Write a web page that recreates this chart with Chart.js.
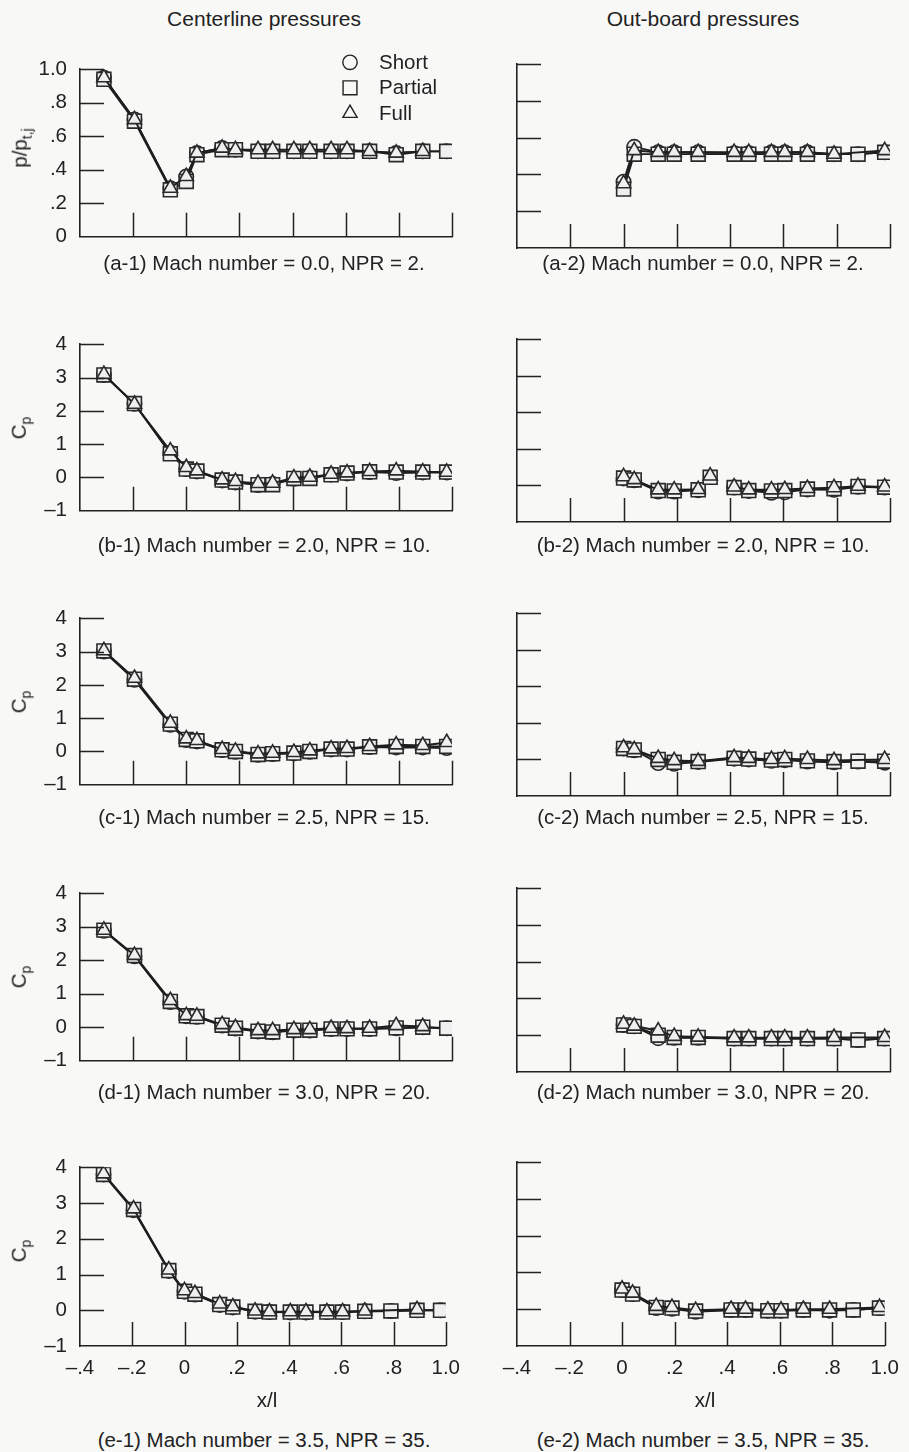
<!DOCTYPE html>
<html>
<head>
<meta charset="utf-8">
<script src="https://cdn.jsdelivr.net/npm/chart.js@4.4.1/dist/chart.umd.min.js"></script>
<style>
  html, body { margin: 0; padding: 0; background: #f8f8f7; }
  #page { position: relative; width: 909px; height: 1452px; overflow: hidden;
          font-family: 'Liberation Sans', Arial, sans-serif; color: #222; }
  .txt { position: absolute; font-size: 20.5px; line-height: 1; white-space: nowrap;
         transform: translate(-50%, -50%); }
  .hdr { font-size: 21px; }
  .rot { transform: translate(-50%, -50%) rotate(-90deg); }
  .txt sub { font-size: 14px; vertical-align: -5px; line-height: 0; }
  canvas { position: absolute; }
</style>
</head>
<body>
<div id="page"></div>
<script>
// tap locations, x/l
const centerX = [-0.31, -0.195, -0.06, 0.0, 0.04, 0.135, 0.185, 0.27, 0.325, 0.405, 0.465, 0.545, 0.605, 0.69, 0.79, 0.89, 0.98];
const outboardX = [0.0, 0.04, 0.13, 0.19, 0.28, 0.325, 0.415, 0.47, 0.555, 0.605, 0.69, 0.79, 0.88, 0.98];

// tick labels
const xTickLabels = ['–.4', '–.2', '0', '.2', '.4', '.6', '.8', '1.0'];
const pTickLabels = ['0', '.2', '.4', '.6', '.8', '1.0'];
const cpTickLabels = ['–1', '0', '1', '2', '3', '4'];

// (a) Mach 0.0, NPR 2  -> p/pt,j
const a1Short   = [0.95, 0.70, 0.29, 0.36, 0.50, 0.53, 0.52, 0.51, 0.51, 0.51, 0.51, 0.51, 0.51, 0.51, 0.50, 0.51, 0.51];
const a1Partial = [0.94, 0.69, 0.28, 0.33, 0.49, 0.52, 0.52, 0.51, 0.51, 0.51, 0.51, 0.51, 0.51, 0.51, 0.49, 0.51, 0.51];
const a1Full    = [0.95, 0.70, 0.29, 0.36, 0.50, 0.53, 0.52, 0.52, 0.52, 0.52, 0.52, 0.52, 0.52, 0.51, 0.50, 0.51, null];
const a2Short   = [0.36, 0.55, 0.52, 0.52, 0.52, null, 0.515, 0.515, 0.52, 0.52, 0.52, 0.51, 0.51, 0.52];
const a2Partial = [0.32, 0.51, 0.51, 0.51, 0.51, null, 0.51, 0.51, 0.51, 0.51, 0.51, 0.51, 0.51, 0.52];
const a2Full    = [0.35, 0.53, 0.52, 0.52, 0.52, null, 0.52, 0.52, 0.52, 0.52, 0.52, 0.51, null, 0.53];

// (b) Mach 2.0, NPR 10  -> Cp
const b1Short   = [3.08, 2.21, 0.74, 0.25, 0.18, -0.09, -0.15, -0.23, -0.20, -0.04, -0.02, 0.09, 0.12, 0.16, 0.13, 0.15, 0.15];
const b1Partial = [3.08, 2.22, 0.71, 0.25, 0.19, -0.08, -0.14, -0.22, -0.22, -0.03, -0.03, 0.08, 0.13, 0.17, 0.16, 0.16, 0.16];
const b1Full    = [3.10, 2.20, 0.80, 0.30, 0.20, -0.07, -0.12, -0.18, -0.17, -0.01, 0.01, 0.10, 0.14, 0.18, 0.20, 0.17, 0.16];
const b2Short   = [0.19, 0.14, -0.17, -0.17, -0.13, null, -0.06, -0.15, -0.20, -0.19, -0.11, -0.12, -0.04, -0.06];
const b2Partial = [0.20, 0.15, -0.14, -0.15, -0.12, 0.22, -0.06, -0.14, -0.15, -0.14, -0.10, -0.09, -0.03, -0.05];
const b2Full    = [0.24, 0.16, -0.12, -0.12, -0.11, 0.26, -0.04, -0.12, -0.12, -0.11, -0.08, -0.06, -0.02, -0.04];
const b2Loose   = [5]; // tap plotted without a connecting line

// (c) Mach 2.5, NPR 15
const c1Short   = [3.00, 2.15, 0.80, 0.34, 0.30, 0.04, -0.01, -0.10, -0.08, -0.06, -0.01, 0.06, 0.06, 0.13, 0.12, 0.12, 0.10];
const c1Partial = [3.02, 2.17, 0.82, 0.36, 0.32, 0.05, 0.00, -0.09, -0.07, -0.05, 0.00, 0.07, 0.07, 0.14, 0.15, 0.15, 0.15];
const c1Full    = [3.03, 2.20, 0.85, 0.38, 0.33, 0.06, 0.01, -0.07, -0.05, -0.03, 0.02, 0.08, 0.09, 0.15, 0.20, 0.18, 0.27];
const c2Short   = [0.30, 0.25, -0.10, -0.12, -0.07, null, 0.02, 0.00, -0.04, -0.02, -0.06, -0.08, -0.06, -0.09];
const c2Partial = [0.30, 0.26, 0.00, -0.08, -0.06, null, 0.03, 0.01, -0.02, 0.00, -0.04, -0.06, -0.05, -0.05];
const c2Full    = [0.32, 0.27, 0.03, -0.03, -0.05, null, 0.05, 0.03, 0.00, 0.02, 0.00, -0.03, null, 0.00];

// (d) Mach 3.0, NPR 20
const d1Short   = [2.88, 2.12, 0.75, 0.33, 0.31, 0.05, -0.04, -0.13, -0.15, -0.10, -0.10, -0.05, -0.05, -0.05, -0.03, 0.00, -0.03];
const d1Partial = [2.90, 2.14, 0.77, 0.34, 0.32, 0.06, -0.03, -0.12, -0.14, -0.09, -0.09, -0.05, -0.05, -0.05, -0.02, 0.00, -0.03];
const d1Full    = [2.90, 2.15, 0.80, 0.35, 0.33, 0.08, -0.01, -0.10, -0.10, -0.07, -0.07, -0.03, -0.04, -0.03, 0.05, 0.02, null];
const d2Short   = [0.28, 0.24, -0.08, -0.07, -0.07, null, -0.09, -0.09, -0.09, -0.09, -0.09, -0.09, -0.13, -0.09];
const d2Partial = [0.28, 0.24, 0.00, -0.06, -0.06, null, -0.09, -0.09, -0.09, -0.09, -0.09, -0.09, -0.13, -0.09];
const d2Full    = [0.30, 0.25, 0.12, -0.03, -0.05, null, -0.07, -0.07, -0.07, -0.07, -0.07, -0.06, null, -0.06];

// (e) Mach 3.5, NPR 35
const e1Short   = [3.80, 2.80, 1.10, 0.52, 0.44, 0.15, 0.08, -0.04, -0.05, -0.06, -0.06, -0.05, -0.05, -0.03, -0.02, 0.00, 0.00];
const e1Partial = [3.80, 2.82, 1.11, 0.53, 0.45, 0.16, 0.09, -0.03, -0.05, -0.05, -0.05, -0.05, -0.05, -0.03, -0.02, 0.00, 0.00];
const e1Full    = [3.82, 2.84, 1.13, 0.55, 0.47, 0.18, 0.10, -0.02, -0.04, -0.04, -0.04, -0.04, -0.04, -0.02, null, 0.02, null];
const e2Short   = [0.52, 0.41, 0.03, 0.01, -0.07, null, -0.02, -0.02, -0.04, -0.04, -0.02, -0.04, -0.02, 0.03];
const e2Partial = [0.52, 0.41, 0.05, 0.03, -0.05, null, -0.02, -0.02, -0.04, -0.04, -0.02, -0.02, -0.02, 0.03];
const e2Full    = [0.55, 0.44, 0.08, 0.05, -0.03, null, 0.00, 0.00, -0.02, -0.02, 0.00, 0.00, null, 0.05];

const seriesNames = ['Short', 'Partial', 'Full'];

const ink = '#222';
const fontFamily = "'Liberation Sans', Arial, sans-serif";
const markers = [
  { pointStyle: 'circle', radius: 7.2, order: 3 },
  { pointStyle: 'rect', radius: 9.8, order: 2 },
  { pointStyle: 'triangle', radius: 8.2, order: 1 }
];

const rows = [
  { top: 64,   h: 184, capY: 263,  kind: 'p',  tag: 'a', mach: '0.0', npr: '2' },
  { top: 339,  h: 183, capY: 545,  kind: 'cp', tag: 'b', mach: '2.0', npr: '10' },
  { top: 613,  h: 183, capY: 817,  kind: 'cp', tag: 'c', mach: '2.5', npr: '15' },
  { top: 888,  h: 184, capY: 1092, kind: 'cp', tag: 'd', mach: '3.0', npr: '20' },
  { top: 1162, h: 184, capY: 1440, kind: 'cp', tag: 'e', mach: '3.5', npr: '35' }
];
const rowSeries = {
  a: [[a1Short, a1Partial, a1Full], [a2Short, a2Partial, a2Full]],
  b: [[b1Short, b1Partial, b1Full], [b2Short, b2Partial, b2Full]],
  c: [[c1Short, c1Partial, c1Full], [c2Short, c2Partial, c2Full]],
  d: [[d1Short, d1Partial, d1Full], [d2Short, d2Partial, d2Full]],
  e: [[e1Short, e1Partial, e1Full], [e2Short, e2Partial, e2Full]]
};
const rowLoose = { b: [[], b2Loose] };

const cols = [
  { left: 0,   width: 470, axisW: 80, padR: 18, cx: 264, x: centerX, header: 'Centerline pressures' },
  { left: 470, width: 439, axisW: 47, padR: 19, cx: 703, x: outboardX, header: 'Out-board pressures' }
];

const page = document.getElementById('page');
function addText(html, x, y, cls) {
  const d = document.createElement('div');
  d.className = 'txt' + (cls ? ' ' + cls : '');
  d.innerHTML = html;
  d.style.left = x + 'px';
  d.style.top = y + 'px';
  page.appendChild(d);
}

// inward tick marks, like the original plots
const innerTicks = {
  id: 'innerTicks',
  afterDraw(chart) {
    const { ctx, chartArea } = chart;
    const xs = chart.scales.x, ys = chart.scales.y;
    ctx.save();
    ctx.strokeStyle = ink;
    ctx.lineWidth = 1.5;
    ctx.beginPath();
    xs.ticks.forEach((t, i) => {
      if (i === 0) return;
      const px = Math.round(xs.getPixelForValue(t.value)) + 0.5;
      ctx.moveTo(px, chartArea.bottom);
      ctx.lineTo(px, chartArea.bottom - 24);
    });
    ys.ticks.forEach((t, i) => {
      if (i === 0) return;
      const py = Math.round(ys.getPixelForValue(t.value)) + 0.5;
      ctx.moveTo(chartArea.left, py);
      ctx.lineTo(chartArea.left + 24, py);
    });
    ctx.stroke();
    ctx.restore();
  }
};

// legend drawn inside the first panel
const innerLegend = {
  id: 'innerLegend',
  afterDraw(chart, args, opts) {
    if (!opts.show) return;
    const { ctx, chartArea } = chart;
    ctx.save();
    chart.data.datasets.forEach((ds, k) => {
      const x = chartArea.left + 270;
      const y = chartArea.top - 7 + k * 25.5;
      ctx.strokeStyle = ink;
      ctx.fillStyle = 'rgba(0,0,0,0)';
      ctx.lineWidth = 1.4;
      Chart.helpers.drawPoint(ctx, { pointStyle: ds.pointStyle, radius: ds.pointRadius, rotation: 0, borderWidth: 1.4 }, x, y);
      ctx.fillStyle = ink;
      ctx.font = '20.5px ' + fontFamily;
      ctx.textBaseline = 'middle';
      ctx.textAlign = 'left';
      ctx.fillText(ds.label, x + 29, y + 1);
    });
    ctx.restore();
  }
};

rows.forEach((row, r) => {
  const last = r === rows.length - 1;
  cols.forEach((col, c) => {
    const padT = 20;
    const axisH = last ? 44 : 14;
    const canvas = document.createElement('canvas');
    canvas.width = col.width;
    canvas.height = padT + row.h + axisH;
    canvas.style.left = col.left + 'px';
    canvas.style.top = (row.top - padT) + 'px';
    page.appendChild(canvas);

    const series = rowSeries[row.tag][c];
    const loose = (rowLoose[row.tag] || [[], []])[c];
    const isP = row.kind === 'p';
    const yLabels = isP ? pTickLabels : cpTickLabels;

    const datasets = seriesNames.map((name, k) => ({
      label: name,
      data: col.x.map((xv, i) => ({ x: xv, y: series[k][i] })),
      borderColor: '#1e1e1e',
      borderWidth: 1.9,
      pointStyle: markers[k].pointStyle,
      pointRadius: markers[k].radius,
      pointBorderColor: '#2a2a2a',
      pointBackgroundColor: '#efefef',
      pointBorderWidth: 1.6,
      order: markers[k].order,
      tension: 0,
      spanGaps: true,
      segment: {
        borderColor: s => (loose.includes(s.p0DataIndex) || loose.includes(s.p1DataIndex)) ? 'rgba(0,0,0,0)' : undefined
      }
    }));

    new Chart(canvas, {
      type: 'line',
      data: { datasets },
      options: {
        responsive: false,
        animation: false,
        events: [],
        layout: { padding: { top: padT, right: col.padR, left: 0, bottom: 0 } },
        plugins: {
          legend: { display: false },
          tooltip: { enabled: false },
          innerLegend: { show: r === 0 && c === 0 }
        },
        scales: {
          x: {
            type: 'linear', min: -0.4, max: 1.0,
            grid: { display: false, drawTicks: false },
            border: { display: true, color: ink, width: 1.6 },
            ticks: {
              display: last, stepSize: 0.2, padding: 10, autoSkip: false, maxRotation: 0,
              color: ink, font: { family: fontFamily, size: 20.5 },
              callback: (v, i) => xTickLabels[i]
            },
            afterFit: s => { s.height = axisH; }
          },
          y: {
            type: 'linear', min: isP ? 0 : -1, max: isP ? 1.0 : 4,
            grid: { display: false, drawTicks: false },
            border: { display: true, color: ink, width: 1.6 },
            ticks: {
              display: c === 0, stepSize: isP ? 0.2 : 1, padding: 13, autoSkip: false,
              color: ink, font: { family: fontFamily, size: 20.5 },
              callback: (v, i) => yLabels[i]
            },
            afterFit: s => { s.width = col.axisW; }
          }
        }
      },
      plugins: [innerTicks, innerLegend]
    });

    const mid = row.top + row.h / 2;
    if (c === 0) {
      if (isP) addText('p/p<sub>t,j</sub>', 20, mid - 8, 'rot');
      else addText('C<sub>p</sub>', 19, mid - 3, 'rot');
    }
    addText('(' + row.tag + '-' + (c + 1) + ') Mach number = ' + row.mach + ', NPR = ' + row.npr + '.', col.cx, row.capY);
    if (last) addText('x/l', c === 0 ? 267 : 705, 1400);
  });
});

cols.forEach(col => addText(col.header, col.cx, 18, 'hdr'));
</script>
</body>
</html>
